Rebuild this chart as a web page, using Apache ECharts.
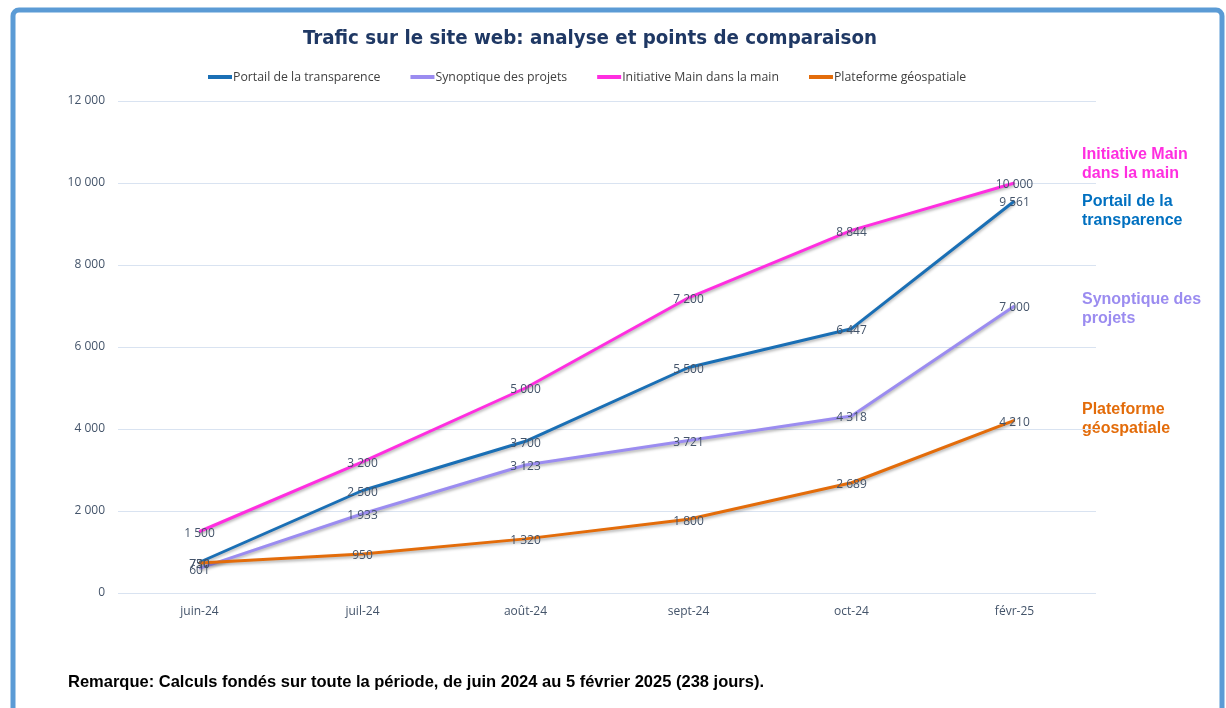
<!DOCTYPE html>
<html lang="fr">
<head>
    <meta charset="utf-8">
    <title>Trafic sur le site web</title>
    <script src="https://cdn.jsdelivr.net/npm/echarts@6/dist/echarts.min.js"></script>
    <style>
        body { margin: 0; background: #ffffff; }
        #main { width: 1226px; height: 708px; }
    </style>
</head>
<body>
<div id="main"></div>

<script type="text/javascript">
    // données
    var mois = ['juin-24', 'juil-24', 'août-24', 'sept-24', 'oct-24', 'févr-25'];
    var portail = [750, 2500, 3700, 5500, 6447, 9561];
    var synoptique = [601, 1933, 3123, 3721, 4318, 7000];
    var initiative = [1500, 3200, 5000, 7200, 8844, 10000];
    var plateforme = [730, 950, 1320, 1800, 2689, 4210];
    var nomsSeries = ['Portail de la transparence', 'Synoptique des projets', 'Initiative Main dans la main', 'Plateforme géospatiale'];
    var couleurs = ['#1a6fb5', '#9b8cf0', '#ff2ee0', '#e36c0a'];

    function fmt(v) {
        return String(v).replace(/\B(?=(\d{3})+(?!\d))/g, ' ');
    }

    function serie(idx, data) {
        return {
            name: nomsSeries[idx],
            type: 'line',
            data: data,
            symbol: 'circle',
            symbolSize: 1,
            lineStyle: {
                width: 3,
                color: couleurs[idx],
                shadowBlur: 3,
                shadowColor: 'rgba(0,0,0,0.3)',
                shadowOffsetY: 2
            },
            itemStyle: { color: couleurs[idx] },
            label: {
                show: true,
                position: 'inside',
                offset: [0, 2],
                color: '#44546a',
                fontFamily: 'Open Sans',
                fontSize: 12,
                formatter: function (p) { return fmt(p.value); }
            },
            emphasis: { disabled: true },
            z: 2 + idx
        };
    }

    var myChart = echarts.init(document.getElementById('main'));
    myChart.setOption({
        animation: false,
        title: {
            text: 'Trafic sur le site web: analyse et points de comparaison',
            left: 298,
            top: 24,
            textStyle: {
                color: '#1f3864',
                fontFamily: 'DejaVu Sans Condensed',
                fontWeight: 'bold',
                fontSize: 20.3
            }
        },
        legend: {
            top: 66,
            left: 203,
            icon: 'rect',
            itemWidth: 24,
            itemHeight: 4,
            itemGap: 30,
            data: nomsSeries,
            textStyle: {
                color: '#404040',
                fontFamily: 'Open Sans',
                fontSize: 12.3,
                padding: [0, 0, 0, -4]
            }
        },
        grid: {
            left: 118,
            right: 130,
            top: 101,
            bottom: 115,
            containLabel: false
        },
        xAxis: {
            type: 'category',
            data: mois,
            boundaryGap: true,
            axisLine: { show: false },
            axisTick: { show: false },
            axisLabel: {
                color: '#44546a',
                fontFamily: 'Open Sans',
                fontSize: 12,
                margin: 13
            }
        },
        yAxis: {
            type: 'value',
            min: 0,
            max: 12000,
            interval: 2000,
            axisLine: { show: false },
            axisTick: { show: false },
            splitLine: { lineStyle: { color: '#d9e3f1', width: 1 } },
            axisLabel: {
                color: '#44546a',
                fontFamily: 'Open Sans',
                fontSize: 12,
                margin: 13,
                formatter: function (v) { return fmt(v); }
            }
        },
        series: [
            serie(0, portail),
            serie(1, synoptique),
            serie(2, initiative),
            serie(3, plateforme)
        ],
        graphic: [
            {
                type: 'rect',
                silent: true,
                shape: { x: 13, y: 10, width: 1209, height: 740, r: 6 },
                style: { fill: 'none', stroke: '#5b9bd5', lineWidth: 5 }
            },
            {
                type: 'text', left: 1082, top: 145,
                style: { text: 'Initiative Main\ndans la main', fill: couleurs[2], font: 'bold 16px "Liberation Sans"', lineHeight: 19 }
            },
            {
                type: 'text', left: 1082, top: 192,
                style: { text: 'Portail de la\ntransparence', fill: '#0070c0', font: 'bold 16px "Liberation Sans"', lineHeight: 19 }
            },
            {
                type: 'text', left: 1082, top: 290,
                style: { text: 'Synoptique des\nprojets', fill: couleurs[1], font: 'bold 16px "Liberation Sans"', lineHeight: 19 }
            },
            {
                type: 'text', left: 1082, top: 400,
                style: { text: 'Plateforme\ngéospatiale', fill: couleurs[3], font: 'bold 16px "Liberation Sans"', lineHeight: 19 }
            },
            {
                type: 'text', left: 68, top: 674,
                style: { text: 'Remarque: Calculs fondés sur toute la période, de juin 2024 au 5 février 2025 (238 jours).', fill: '#000000', font: 'bold 16.5px "Liberation Sans"' }
            }
        ]
    });
</script>
</body>
</html>
